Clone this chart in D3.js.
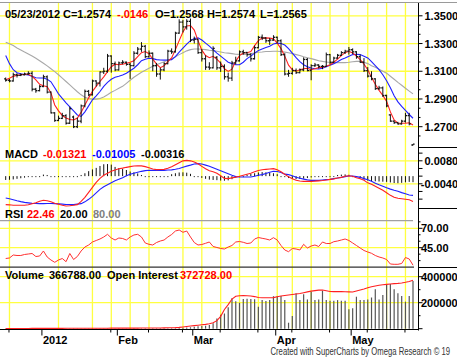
<!DOCTYPE html>
<html><head><meta charset="utf-8">
<script src="https://cdn.jsdelivr.net/npm/d3@7"></script>
<style>
html,body{margin:0;padding:0;background:#fff;}
svg{display:block;}
text{font-family:"Liberation Sans",Arial,Helvetica,sans-serif;}
</style></head><body>
<svg id="c" width="457" height="360"></svg>
<script>
// ---- calendar (trading days of the June Euro FX contract) ----
const firstDay = "2011-12-16", lastDay = "2012-05-23";
const holidays = ["2011-12-26","2012-01-02","2012-01-16","2012-02-20","2012-04-06"];
const monthLabels = ["2012","Feb","Mar","Apr","May"];

// ---- price bars ----
const opens = [1.3045,1.3035,1.3030,1.3075,1.3070,1.3075,1.3080,1.3085,1.2970,1.2960,
 1.2990,1.3060,1.2950,1.2800,1.2745,1.2760,1.2780,1.2725,1.2770,1.2700,
 1.2740,1.2850,1.2955,1.2930,1.3030,1.3015,1.3095,1.3100,1.3210,1.3155,
 1.3110,1.3160,1.3165,1.3150,1.3140,1.3230,1.3260,1.3280,1.3205,1.3230,
 1.3140,1.3080,1.3110,1.3155,1.3245,1.3240,1.3375,1.3455,1.3420,1.3460,
 1.3325,1.3330,1.3235,1.3190,1.3130,1.3125,1.3200,1.3125,1.3135,1.3060,
 1.3050,1.3160,1.3175,1.3240,1.3235,1.3220,1.3190,1.3270,1.3345,1.3340,
 1.3320,1.3325,1.3345,1.3320,1.3220,1.3080,1.3085,1.3105,1.3090,1.3110,
 1.3185,1.3105,1.3140,1.3145,1.3135,1.3135,1.3220,1.3165,1.3195,1.3215,
 1.3235,1.3245,1.3255,1.3240,1.3205,1.3165,1.3105,1.3065,1.3045,1.2975,
 1.2980,1.2925,1.2785,1.2740,1.2730,1.2720,1.2740,1.2780,1.2568];
const highs = [1.3055,1.3045,1.3090,1.3085,1.3085,1.3090,1.3100,1.3100,1.2980,1.3000,
 1.3075,1.3070,1.2955,1.2805,1.2780,1.2800,1.2790,1.2845,1.2780,1.2765,
 1.2860,1.2968,1.2965,1.3040,1.3035,1.3100,1.3125,1.3225,1.3215,1.3170,
 1.3170,1.3180,1.3170,1.3160,1.3245,1.3275,1.3310,1.3290,1.3250,1.3235,
 1.3160,1.3125,1.3165,1.3255,1.3265,1.3385,1.3475,1.3470,1.3475,1.3480,
 1.3350,1.3335,1.3260,1.3215,1.3165,1.3280,1.3210,1.3170,1.3150,1.3090,
 1.3175,1.3205,1.3250,1.3255,1.3240,1.3230,1.3285,1.3355,1.3365,1.3345,
 1.3340,1.3360,1.3350,1.3330,1.3230,1.3110,1.3125,1.3120,1.3120,1.3200,
 1.3195,1.3150,1.3160,1.3150,1.3145,1.3235,1.3225,1.3205,1.3225,1.3245,
 1.3255,1.3275,1.3265,1.3245,1.3220,1.3195,1.3130,1.3100,1.3050,1.2995,
 1.2990,1.2930,1.2790,1.2745,1.2735,1.2750,1.2800,1.2800,1.2574];
const lows = [1.3025,1.3020,1.3025,1.3055,1.3065,1.3070,1.3075,1.2955,1.2945,1.2955,
 1.2985,1.2940,1.2795,1.2735,1.2740,1.2755,1.2715,1.2720,1.2690,1.2690,
 1.2725,1.2840,1.2920,1.2925,1.2990,1.2990,1.3080,1.3090,1.3090,1.3100,
 1.3105,1.3150,1.3140,1.3045,1.3135,1.3220,1.3240,1.3195,1.3200,1.3100,
 1.3060,1.3040,1.3100,1.3150,1.3225,1.3235,1.3370,1.3380,1.3400,1.3310,
 1.3300,1.3225,1.3170,1.3110,1.3110,1.3120,1.3110,1.3095,1.3040,1.3025,
 1.3030,1.3150,1.3170,1.3220,1.3205,1.3170,1.3185,1.3265,1.3325,1.3305,
 1.3290,1.3320,1.3300,1.3210,1.3070,1.3060,1.3075,1.3080,1.3085,1.3100,
 1.3100,1.3035,1.3130,1.3120,1.3115,1.3130,1.3150,1.3160,1.3190,1.3210,
 1.3225,1.3220,1.3225,1.3190,1.3160,1.3095,1.3055,1.3035,1.2965,1.2965,
 1.2915,1.2840,1.2735,1.2720,1.2715,1.2715,1.2730,1.2710,1.2565];
const closes = [1.3035,1.3030,1.3075,1.3070,1.3075,1.3080,1.3085,1.2970,1.2960,1.2990,
 1.3060,1.2950,1.2800,1.2745,1.2760,1.2780,1.2725,1.2830,1.2700,1.2740,
 1.2850,1.2955,1.2930,1.3030,1.3015,1.3095,1.3100,1.3210,1.3155,1.3110,
 1.3160,1.3165,1.3150,1.3140,1.3230,1.3260,1.3280,1.3205,1.3230,1.3140,
 1.3080,1.3110,1.3155,1.3245,1.3240,1.3375,1.3455,1.3420,1.3460,1.3325,
 1.3330,1.3235,1.3190,1.3130,1.3125,1.3265,1.3125,1.3135,1.3060,1.3050,
 1.3160,1.3175,1.3240,1.3235,1.3220,1.3190,1.3270,1.3345,1.3340,1.3320,
 1.3325,1.3345,1.3320,1.3220,1.3080,1.3085,1.3105,1.3090,1.3110,1.3185,
 1.3105,1.3140,1.3145,1.3135,1.3135,1.3220,1.3165,1.3195,1.3215,1.3235,
 1.3245,1.3255,1.3240,1.3205,1.3165,1.3105,1.3065,1.3045,1.2975,1.2980,
 1.2925,1.2850,1.2740,1.2730,1.2720,1.2740,1.2780,1.2720,1.2574];

// ---- moving averages ----
const maFast = [1.3038,1.3049,1.3063,1.3071,1.3075,1.3078,1.3078,1.3064,1.3038,1.3006,
 1.2995,1.2988,1.2944,1.2857,1.2814,1.2781,1.2763,1.2752,1.2749,1.2763,
 1.2803,1.2857,1.2908,1.2955,1.2991,1.3026,1.3060,1.3097,1.3133,1.3151,
 1.3147,1.3151,1.3158,1.3165,1.3176,1.3205,1.3234,1.3242,1.3227,1.3187,
 1.3151,1.3126,1.3140,1.3169,1.3196,1.3256,1.3321,1.3383,1.3426,1.3430,
 1.3397,1.3321,1.3252,1.3213,1.3198,1.3208,1.3187,1.3158,1.3118,1.3099,
 1.3115,1.3173,1.3213,1.3232,1.3234,1.3242,1.3285,1.3321,1.3339,1.3341,
 1.3339,1.3334,1.3303,1.3263,1.3209,1.3144,1.3111,1.3100,1.3111,1.3118,
 1.3122,1.3111,1.3118,1.3126,1.3129,1.3136,1.3147,1.3165,1.3187,1.3213,
 1.3234,1.3244,1.3231,1.3209,1.3184,1.3151,1.3111,1.3057,1.3006,1.2962,
 1.2926,1.2883,1.2807,1.2749,1.2725,1.2725,1.2725,1.2728,1.2712];
const maMid = [1.3213,1.3155,1.3111,1.3089,1.3082,1.3077,1.3073,1.3064,1.3053,1.3051,
 1.3051,1.3042,1.3024,1.2981,1.2937,1.2904,1.2872,1.2843,1.2814,1.2785,
 1.2774,1.2807,1.2850,1.2894,1.2923,1.2954,1.2991,1.3020,1.3042,1.3057,
 1.3064,1.3073,1.3086,1.3104,1.3122,1.3147,1.3176,1.3187,1.3194,1.3191,
 1.3184,1.3181,1.3180,1.3181,1.3184,1.3205,1.3238,1.3267,1.3296,1.3321,
 1.3336,1.3341,1.3325,1.3303,1.3281,1.3256,1.3231,1.3209,1.3187,1.3165,
 1.3155,1.3147,1.3147,1.3165,1.3191,1.3209,1.3231,1.3249,1.3260,1.3271,
 1.3281,1.3296,1.3303,1.3300,1.3289,1.3263,1.3231,1.3198,1.3169,1.3147,
 1.3133,1.3123,1.3118,1.3116,1.3122,1.3133,1.3144,1.3155,1.3169,1.3184,
 1.3196,1.3209,1.3220,1.3223,1.3220,1.3209,1.3196,1.3169,1.3140,1.3111,
 1.3075,1.3031,1.2981,1.2923,1.2879,1.2846,1.2817,1.2788,1.2761];
const maSlow = [1.3310,1.3298,1.3285,1.3268,1.3254,1.3239,1.3225,1.3210,1.3194,1.3176,
 1.3158,1.3139,1.3118,1.3097,1.3075,1.3051,1.3026,1.3002,1.2977,1.2952,
 1.2930,1.2913,1.2903,1.2899,1.2899,1.2904,1.2915,1.2930,1.2948,1.2962,
 1.2977,1.2991,1.3013,1.3035,1.3057,1.3075,1.3093,1.3107,1.3122,1.3136,
 1.3147,1.3158,1.3169,1.3180,1.3191,1.3205,1.3220,1.3234,1.3247,1.3256,
 1.3261,1.3261,1.3259,1.3256,1.3252,1.3249,1.3244,1.3239,1.3234,1.3231,
 1.3227,1.3223,1.3222,1.3222,1.3223,1.3227,1.3232,1.3237,1.3239,1.3242,
 1.3243,1.3244,1.3244,1.3242,1.3238,1.3234,1.3227,1.3220,1.3213,1.3205,
 1.3198,1.3191,1.3184,1.3176,1.3171,1.3167,1.3163,1.3162,1.3162,1.3162,
 1.3162,1.3165,1.3169,1.3171,1.3171,1.3165,1.3155,1.3140,1.3129,1.3115,
 1.3100,1.3086,1.3064,1.3042,1.3020,1.2999,1.2977,1.2957,1.2937];

// ---- MACD (thousandths) ----
const macdLine = [-14.87,-14.97,-15.23,-15.23,-15.23,-15.23,-14.97,-14.45,-13.93,-13.15,
 -12.62,-12.88,-13.41,-14.19,-14.71,-15.23,-15.60,-15.49,-15.23,-14.87,
 -13.15,-11.06,-8.45,-5.84,-3.23,-1.15,0.42,1.46,2.50,3.18,
 3.81,4.17,4.59,4.96,5.27,5.37,5.37,4.96,4.33,3.70,
 3.39,3.44,3.55,4.07,4.85,5.89,6.94,7.98,8.24,7.98,
 7.36,6.42,5.11,3.81,2.76,2.24,1.46,0.16,-1.15,-1.30,
 -0.89,-0.52,-0.10,0.42,0.94,1.46,2.24,2.92,3.29,3.55,
 3.76,3.91,3.29,2.24,0.94,-0.37,-1.41,-2.19,-2.56,-2.71,
 -2.71,-2.71,-2.61,-2.45,-2.30,-2.03,-1.67,-1.41,-0.99,-0.63,
 -0.10,0.16,-0.10,-0.89,-1.41,-2.19,-3.50,-4.28,-5.32,-6.36,
 -7.41,-8.71,-10.02,-11.06,-11.58,-11.84,-12.10,-12.36,-13.21];
const macdSignal = [-11.42,-11.84,-12.36,-12.88,-13.30,-13.67,-13.93,-14.19,-14.29,-14.35,
 -14.35,-14.29,-14.29,-14.35,-14.45,-14.61,-14.81,-14.87,-14.87,-14.61,
 -14.35,-13.41,-12.10,-10.54,-8.71,-6.89,-5.58,-4.54,-3.50,-2.45,
 -1.67,-0.89,0.16,0.94,1.46,1.98,2.50,2.87,3.03,3.03,
 3.03,3.03,3.03,3.18,3.29,3.55,3.96,4.59,5.22,5.74,
 6.31,6.52,6.31,5.74,5.11,4.33,3.55,2.76,1.98,1.20,
 0.42,-0.26,-0.47,-0.47,-0.47,-0.47,-0.10,0.42,0.78,1.36,
 1.98,2.50,2.40,1.88,1.04,0.78,0.16,-0.63,-1.15,-1.56,
 -1.93,-2.19,-2.19,-2.19,-2.03,-1.83,-1.67,-1.30,-0.99,-0.63,
 -0.26,0.05,0.05,-0.26,-0.63,-1.30,-1.93,-2.71,-3.65,-4.54,
 -5.32,-6.10,-6.78,-7.41,-7.93,-8.61,-9.23,-9.86,-10.05];
const macdHist = [-2.0,-1.9,-1.7,-1.4,-1.1,-0.8,-0.5,-0.2,0.2,0.5,
 0.8,0.6,0.3,0.1,-0.2,-0.3,-0.4,-0.3,-0.2,0.1,
 0.6,1.5,2.6,3.5,4.3,5.3,6.2,6.3,6.0,4.8,
 4.2,3.8,3.2,2.4,2.0,1.4,0.6,0.3,0.1,0.0,
 0.0,0.1,0.2,0.4,1.0,1.5,1.9,2.0,1.8,1.2,
 0.5,-0.3,-0.9,-1.4,-1.8,-2.0,-2.1,-2.3,-2.4,-2.2,
 -1.6,-0.8,-0.2,0.3,0.7,1.1,1.5,1.9,2.1,2.0,
 1.8,1.5,1.0,0.3,-0.4,-1.0,-1.4,-1.6,-1.5,-1.3,
 -1.0,-0.7,-0.4,-0.2,-0.1,0.0,0.1,0.3,0.6,0.8,
 0.9,0.7,0.3,-0.5,-1.2,-1.8,-2.3,-2.6,-2.7,-2.8,
 -2.9,-3.0,-3.3,-3.6,-3.7,-3.5,-3.2,-3.0,-3.16];

// ---- RSI ----
const rsi = [31.08,31.73,35.59,34.95,34.95,36.24,36.88,37.53,33.66,34.30,
 40.75,33.02,29.15,26.19,29.15,31.08,26.96,37.53,29.79,33.66,
 40.75,45.90,48.48,52.35,54.28,56.21,58.79,62.27,57.50,54.92,
 57.50,56.86,54.92,58.79,61.37,62.27,58.79,51.06,49.38,48.48,
 51.70,53.63,54.92,58.79,62.01,66.52,67.81,64.85,66.52,58.79,
 51.70,48.48,49.12,50.67,52.35,46.55,45.26,43.97,43.32,45.90,
 47.84,52.35,52.99,51.96,50.41,51.06,56.21,58.14,57.11,56.21,
 54.92,57.89,54.92,47.84,42.04,39.85,43.97,43.32,42.04,49.38,
 44.61,47.19,48.48,46.55,52.35,50.41,50.41,52.73,53.63,54.92,
 56.21,54.28,51.06,47.84,44.61,41.39,39.46,37.78,34.95,33.02,
 31.73,29.79,23.99,23.61,23.61,24.64,32.37,30.44,22.46];

// ---- volume / open interest ----
const volume = [600,900,700,1100,800,500,900,1500,1200,1000,
 1300,1600,2100,1800,1400,1500,1900,2200,2500,1700,
 2000,2400,1800,2100,1900,2300,2200,2800,2100,2400,
 2600,2300,2000,2500,2700,2400,2900,2600,2300,3100,
 3300,2800,2600,3200,2900,3800,5000,7000,9000,11000,
 15000,19000,21000,23000,29000,41000,78000,108000,117000,165000,
 234000,212000,200000,228000,230000,228000,226000,168000,220000,214000,
 220000,250000,250000,252000,220000,46000,98000,272000,220000,265000,
 225000,285000,220000,225000,292000,220000,215000,215000,220000,215000,
 215000,150000,157000,246000,220000,220000,225000,240000,303000,225000,
 259000,336000,344000,303000,272000,252000,208000,252000,366788];
const openInterest = [1800,1850,1900,1950,2000,2050,2100,2150,2200,2250,
 2300,2400,2500,2600,2700,2800,2900,3000,3100,3200,
 3300,3400,3500,3600,3700,3800,3900,4000,4100,4200,
 4300,4400,4500,4600,4700,4800,4900,5000,5200,5400,
 5600,5800,6200,6800,7500,8500,10500,13500,17000,21000,
 24000,27000,30000,33000,38000,46000,62000,95000,148000,185000,
 228000,250000,254000,255000,254000,252000,247000,240000,238000,238000,
 238000,239000,246000,251000,255000,259000,263000,267000,271000,277000,
 283000,289000,293000,297000,298000,292000,286000,285000,285000,285000,
 284000,283000,282000,290000,298000,306000,315000,323000,329000,334000,
 338000,341000,344000,347000,349000,352000,357000,363000,372728];

// ---- axis ticks ----
const priceTicks = [1.27,1.29,1.31,1.33,1.35];
const macdTicks = [-0.004,0.008];
const rsiTicks = [45,70];
const rsiLevels = [80,20];
const volumeTicks = [200000,400000];
const creditText = "Created with SuperCharts by Omega Research \u00a9 19";

// ---------------- drawing ----------------
const parse = d3.timeParse("%Y-%m-%d"), fmt = d3.timeFormat("%Y-%m-%d");
const dates = d3.timeDay.range(parse(firstDay), d3.timeDay.offset(parse(lastDay),1))
  .filter(d => d.getDay()>0 && d.getDay()<6 && !holidays.includes(fmt(d)));
const n = dates.length;
const idx = d3.range(n);

const svg = d3.select("#c");
const AX = 418.5, TOP = 3, BOT = 329.5;
const x = d3.scalePoint().domain(idx).range([5.7, 413]);
const yP = d3.scaleLinear().domain([1.27,1.35]).range([126.7,15.8]);
const yM = d3.scaleLinear().domain([-0.004,0.008]).range([183.8,160.8]);
const yR = d3.scaleLinear().domain([45,70]).range([247.7,228.3]);
const yV = d3.scaleLinear().domain([0,400000]).range([328.7,276.7]);

svg.append("rect").attr("width",457).attr("height",360).attr("fill","#fff");

// grid
const YEL = "#ffff40";
const grid = svg.append("g").attr("stroke",YEL).attr("stroke-width",1.3);
const mondays = idx.filter(i => dates[i].getDay()===1);
grid.selectAll("line.v").data(mondays).join("line")
  .attr("x1",i=>x(i)).attr("x2",i=>x(i)).attr("y1",TOP).attr("y2",BOT);
const hLines = [].concat(priceTicks.map(yP), macdTicks.map(yM), rsiTicks.map(yR), volumeTicks.map(yV));
grid.selectAll("line.h").data(hLines).join("line")
  .attr("x1",0).attr("x2",AX).attr("y1",d=>d).attr("y2",d=>d);

// frame lines
const frame = svg.append("g").attr("stroke","#000").attr("stroke-width",1);
svg.append("line").attr("x1",0).attr("x2",457).attr("y1",2.5).attr("y2",2.5).attr("stroke","#9a9a9a");
frame.append("line").attr("x1",AX).attr("x2",AX).attr("y1",TOP).attr("y2",BOT+1);
frame.append("line").attr("x1",0).attr("x2",AX).attr("y1",BOT).attr("y2",BOT);
[147.5,208.5,267.5].forEach(y=>frame.append("line").attr("x1",AX).attr("x2",457).attr("y1",y).attr("y2",y));

// RSI levels
svg.append("line").attr("x1",0).attr("x2",413).attr("y1",yR(rsiLevels[0])).attr("y2",yR(rsiLevels[0]))
  .attr("stroke","#a0a0a0").attr("stroke-width",1.3);
svg.append("line").attr("x1",0).attr("x2",414).attr("y1",yR(rsiLevels[1])).attr("y2",yR(rsiLevels[1]))
  .attr("stroke","#333").attr("stroke-width",1.2);

// moving averages
const lineP = d3.line().x((d,i)=>x(i)).y(d=>yP(d));
svg.append("path").datum(maSlow).attr("d",lineP).attr("fill","none").attr("stroke","#a8a8a8").attr("stroke-width",1.1);
svg.append("path").datum(maMid).attr("d",lineP).attr("fill","none").attr("stroke","#2020ff").attr("stroke-width",1.1);
svg.append("path").datum(maFast).attr("d",lineP).attr("fill","none").attr("stroke","#ff2020").attr("stroke-width",1.1);

// OHLC bars
const bars = svg.append("g").attr("stroke","#111").attr("stroke-width",1);
idx.forEach(i=>{
  const cx = x(i);
  let y1 = yP(highs[i]), y2 = yP(lows[i]);
  if (y2 - y1 < 1) y2 = y1 + 1;
  bars.append("line").attr("x1",cx).attr("x2",cx).attr("y1",y1).attr("y2",y2);
  bars.append("line").attr("x1",cx-1.6).attr("x2",cx).attr("y1",yP(opens[i])).attr("y2",yP(opens[i])).attr("stroke-width",1.3);
  bars.append("line").attr("x1",cx).attr("x2",cx+1.6).attr("y1",yP(closes[i])).attr("y2",yP(closes[i])).attr("stroke-width",1.3);
});

// MACD
const z = yM(0);
const hist = svg.append("g").attr("stroke","#111").attr("stroke-width",1);
idx.forEach(i=>{
  let y2 = yM(macdHist[i]/1000);
  if (Math.abs(y2-z) < 1) y2 = z + 1;
  hist.append("line").attr("x1",x(i)).attr("x2",x(i)).attr("y1",z).attr("y2",y2);
});
const lineM = d3.line().x((d,i)=>x(i)).y(d=>yM(d/1000));
svg.append("path").datum(macdSignal).attr("d",lineM).attr("fill","none").attr("stroke","#2020ff").attr("stroke-width",1.1);
svg.append("path").datum(macdLine).attr("d",lineM).attr("fill","none").attr("stroke","#ff2020").attr("stroke-width",1.1);

// RSI
svg.append("path").datum(rsi).attr("d",d3.line().x((d,i)=>x(i)).y(d=>yR(d)))
  .attr("fill","none").attr("stroke","#ff3030").attr("stroke-width",1);

// Volume + OI
const vol = svg.append("g").attr("stroke","#555").attr("stroke-width",1.2);
idx.forEach(i=>{
  vol.append("line").attr("x1",x(i)).attr("x2",x(i)).attr("y1",yV(0)).attr("y2",yV(volume[i]));
});
svg.append("path").datum(openInterest).attr("d",d3.line().x((d,i)=>x(i)).y(d=>yV(d)))
  .attr("fill","none").attr("stroke","#ff2020").attr("stroke-width",1.1);

// right axis ticks and labels
function tickSet(scale, base, step, kmin, kmax, majorEvery, ymin, ymax){
  const g = svg.append("g").attr("stroke","#000").attr("stroke-width",1);
  for (let k=kmin;k<=kmax;k++){
    const yy = scale(base + k*step);
    if (yy<ymin || yy>ymax) continue;
    g.append("line").attr("x1",AX).attr("x2",AX+(k%majorEvery===0?4:2)).attr("y1",yy).attr("y2",yy);
  }
}
function axisLabels(scale, vals, fmtF, xf){
  vals.forEach(v=>svg.append("text").attr("x",xf(v)).attr("y",scale(v)+4).attr("font-size",11)
    .attr("font-weight","bold").attr("fill","#000").text(fmtF(v)));
}
tickSet(yP, 1.27, 0.02/3, -3, 15, 3, 8, 145);
axisLabels(yP, priceTicks, v=>v.toFixed(4), ()=>424.5);
tickSet(yM, 0, 0.004, -6, 4, 1, 150, 206);
axisLabels(yM, macdTicks, v=>v.toFixed(4), v=>v<0?420.8:424.5);
tickSet(yR, 45, 25/3, -4, 4, 3, 211, 266);
axisLabels(yR, rsiTicks, v=>v.toFixed(2), ()=>421);
tickSet(yV, 0, 100000, 0, 4, 2, 270, 330);
axisLabels(yV, volumeTicks, v=>String(v), ()=>421);

// bottom axis: month ticks + biweekly ticks
const ref = parse("2011-12-19");
const biweekly = mondays.filter(i => Math.round((dates[i]-ref)/(7*864e5)) % 2 === 0);
const monthStarts = idx.filter(i => i>0 && dates[i].getMonth()!==dates[i-1].getMonth());
const bt = svg.append("g").attr("stroke","#000").attr("stroke-width",1);
biweekly.forEach(i=>bt.append("line").attr("x1",x(i)-0.5).attr("x2",x(i)-0.5).attr("y1",BOT).attr("y2",BOT+3));
monthStarts.forEach((i,j)=>{
  const tx = x(i)-1.5;
  bt.append("line").attr("x1",tx).attr("x2",tx).attr("y1",BOT).attr("y2",BOT+6);
  svg.append("text").attr("x",tx+1).attr("y",344).attr("font-size",11).attr("font-weight","bold")
    .text(monthLabels[j]);
});

// header texts
function label(t, xx, yy, col){
  svg.append("text").attr("x",xx).attr("y",yy).attr("font-size",11).attr("font-weight","bold")
    .attr("fill",col||"#000").text(t);
}
const last = n-1;
label(d3.timeFormat("%m/%d/%Y")(dates[last]), 5, 18);
label("C="+closes[last].toFixed(4), 63, 18);
label((closes[last]-closes[last-1]).toFixed(4).replace("0.","."), 117, 18, "#ff0000");
label("O="+opens[last].toFixed(4), 155, 18);
label("H="+highs[last].toFixed(4), 207, 18);
label("L="+lows[last].toFixed(4), 260, 18);

label("MACD", 5, 158);
label((macdLine[last]/1000).toFixed(5), 43, 158, "#ff0000");
label((macdSignal[last]/1000).toFixed(5), 92, 158, "#0000ff");
label((macdHist[last]/1000).toFixed(5), 141, 158);

label("RSI", 5, 218);
label(rsi[last].toFixed(2), 27, 218, "#ff0000");
label(rsiLevels[1].toFixed(2), 60, 218);
label(rsiLevels[0].toFixed(2), 93, 218, "#808080");

label("Volume", 5, 279);
label(volume[last].toFixed(2), 49, 279);
label("Open Interest", 107, 279);
label(openInterest[last].toFixed(2), 180, 279, "#ff0000");

// credit line, horizontally condensed like the narrow original face
svg.append("text").attr("transform","translate(270.5,354.5) scale(0.77,1)")
  .attr("font-size",10).attr("fill","#333").text(creditText);
</script>
</body></html>
